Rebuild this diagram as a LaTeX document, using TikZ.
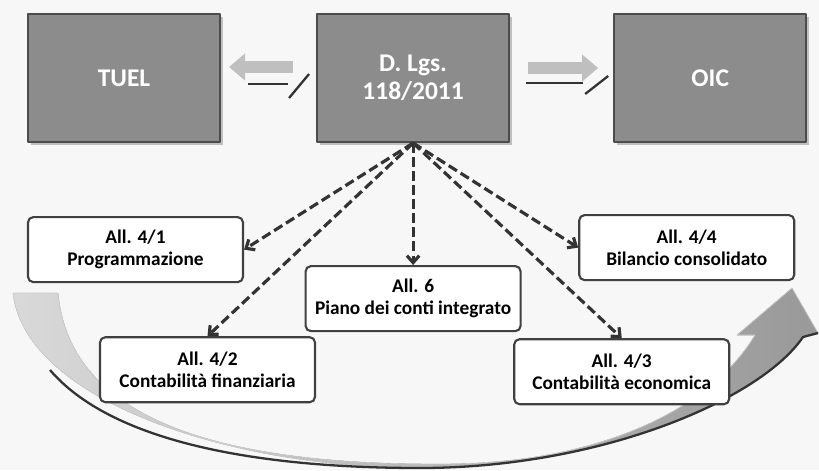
\documentclass[tikz,border=0pt]{standalone}
\usepackage{fontspec}
\setmainfont{Carlito}
\usetikzlibrary{arrows.meta, positioning, calc, shadows}
\tikzset{
    schema/.style={font=\bfseries, line join=round},
    mainbox/.style={draw=black!70, line width=1.2pt, fill=black!45, text=white,
        minimum width=3.84cm, minimum height=2.56cm, align=center,
        font=\bfseries\fontsize{14.5}{16}\selectfont,
        drop shadow={shadow xshift=1.5pt, shadow yshift=-1.5pt, fill=black!25, opacity=1}},
    allbox/.style={draw=black!75, line width=1.2pt, rounded corners=3pt, fill=white,
        minimum width=4.3cm, minimum height=1.3cm, align=center,
        font=\bfseries\fontsize{11}{12.5}\selectfont},
    % dashed links from the decree to the annexes
    link/.style={draw=black!80, line width=1.8pt, dash pattern=on 5.5pt off 2.5pt,
        -{Straight Barb[length=4pt, width=7pt]}},
    flow/.style={draw=black!25, line width=0.24cm, -{Triangle[width=0.52cm, length=0.32cm]}},
    edgeline/.style={draw=black!80, line width=1.3pt},
}
\begin{document}
\begin{tikzpicture}[schema]
    \fill[black!3] (0,0) rectangle (16.38,9.4);
    \useasboundingbox (0,0) rectangle (16.38,9.4);

    % big curved arrow behind the annexes
    \fill[left color=black!15, right color=black!40, draw=black!20]
        (0.26,3.54) .. controls (0.5,1.4) and (4.6,0.04) .. (8.4,0.04)
        .. controls (12.0,0.04) and (15.2,1.4) .. (16.06,2.66)
        -- (16.36,2.74) -- (15.84,3.64) -- (14.74,2.7) -- (15.1,2.7)
        .. controls (14.2,1.2) and (12.0,0.16) .. (9.0,0.12)
        .. controls (4.4,0.08) and (1.4,1.0) .. (1.16,3.54) -- cycle;
    \draw[edgeline] (1.0,2.0) .. controls (2.2,0.6) and (5.0,0.04) .. (8.4,0.04)
        .. controls (12.0,0.04) and (15.2,1.4) .. (16.06,2.66) -- (16.36,2.74);

    \node[mainbox]                      (tuel) at (2.48,7.84) {TUEL};
    \node[mainbox, right=1.9cm of tuel] (dlgs) {D. Lgs.\\118/2011};
    \node[mainbox, right=2.06cm of dlgs] (oic)  {OIC};

    \node[allbox, below=1.46cm of tuel.south west, anchor=north west] (all41) {All. 4/1\\Programmazione};
    \node[allbox, below=1.06cm of all41, xshift=1.44cm]                (all42) {All. 4/2\\Contabilità finanziaria};
    \node[allbox, below=2.44cm of dlgs]                                (all6)  {All. 6\\Piano dei conti integrato};
    \node[allbox, below=1.42cm of oic.south east, anchor=north east, xshift=-0.24cm] (all44) {All. 4/4\\Bilancio consolidato};
    \node[allbox, below=1.14cm of all44, xshift=-1.3cm]                (all43) {All. 4/3\\Contabilità economica};

    % block arrows between the top boxes
    \draw[flow, shorten >=0.16cm, shorten <=0.46cm] ([yshift=0.22cm]dlgs.west) -- ([yshift=0.22cm]tuel.east);
    \draw[flow, shorten <=0.36cm, shorten >=0.3cm] ([yshift=0.2cm]dlgs.east) -- ([yshift=0.2cm]oic.west);
    \draw[edgeline] ($(dlgs.west)+(-1.36,-0.12)$) -- ($(dlgs.west)+(-0.56,-0.12)$);
    \draw[edgeline] ($(dlgs.west)+(-0.54,-0.4)$) -- ($(dlgs.west)+(-0.14,0.08)$);
    \draw[edgeline] ($(dlgs.east)+(0.32,-0.1)$) -- ($(dlgs.east)+(1.46,-0.1)$);
    \draw[edgeline] ($(dlgs.east)+(1.5,-0.32)$) -- ($(dlgs.east)+(1.96,0.04)$);

    \draw[link] (dlgs.south) -- (all41.east);
    \draw[link] (dlgs.south) -- (all42.north);
    \draw[link] (dlgs.south) -- (all6.north);
    \draw[link] (dlgs.south) -- (all44.west);
    \draw[link] (dlgs.south) -- (all43.north);
\end{tikzpicture}
\end{document}
